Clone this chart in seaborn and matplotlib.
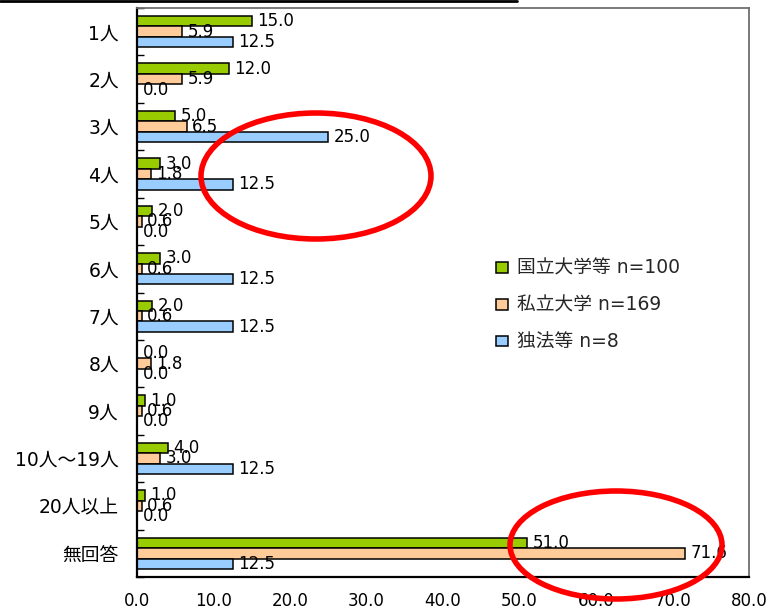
import matplotlib
matplotlib.use("Agg")
import matplotlib.pyplot as plt
from matplotlib.patches import Ellipse
from matplotlib.lines import Line2D
from matplotlib.ticker import FormatStrFormatter, MultipleLocator
import seaborn as sns
import pandas as pd

categories = ["1人", "2人", "3人", "4人", "5人", "6人", "7人", "8人", "9人",
              "10人～19人", "20人以上", "無回答"]
national = [15.0, 12.0, 5.0, 3.0, 2.0, 3.0, 2.0, 0.0, 1.0, 4.0, 1.0, 51.0]
private = [5.9, 5.9, 6.5, 1.8, 0.6, 0.6, 0.6, 1.8, 0.6, 3.0, 0.6, 71.6]
agency = [12.5, 0.0, 25.0, 12.5, 0.0, 12.5, 12.5, 0.0, 0.0, 12.5, 0.0, 12.5]
series_names = ["国立大学等 n=100", "私立大学 n=169", "独法等 n=8"]
series_colors = ["#99CC00", "#FFCC99", "#99CCFF"]

sns.set_theme(style="white")
plt.rcParams["font.family"] = ["DejaVu Sans", "Noto Sans CJK JP"]

rows = []
for name, vals in zip(series_names, [national, private, agency]):
    for cat, v in zip(categories, vals):
        rows.append({"category": cat, "value": v, "series": name})
df = pd.DataFrame(rows)

fig = plt.figure(figsize=(7.67, 6.11), dpi=100)
ax = fig.add_axes([137 / 767, 1 - 577 / 611, (749 - 137) / 767, (577 - 8) / 611])

sns.barplot(data=df, x="value", y="category", hue="series", orient="h",
            order=categories, hue_order=series_names,
            palette=series_colors, width=0.66, gap=0,
            edgecolor="black", linewidth=1.1, saturation=1,
            errorbar=None, ax=ax)

for cont in ax.containers:
    ax.bar_label(cont, fmt="%.1f", padding=4, fontsize=12, color="black")

ax.set_xlim(0, 80)
ax.set_ylim(len(categories) - 0.5, -0.5)
ax.xaxis.set_major_locator(MultipleLocator(10))
ax.xaxis.set_major_formatter(FormatStrFormatter("%.1f"))
ax.set_yticks([i - 0.5 for i in range(len(categories) + 1)], minor=True)
ax.tick_params(axis="x", which="major", direction="in", length=5, width=1,
               colors="black", labelsize=12, pad=11)
ax.tick_params(axis="y", which="major", length=0, labelsize=13.5, pad=13,
               labelcolor="black")
ax.tick_params(axis="y", which="minor", direction="in", length=5, width=1,
               color="black", left=True)
ax.set_xlabel("")
ax.set_ylabel("")

for side in ["left", "bottom"]:
    ax.spines[side].set_color("black")
    ax.spines[side].set_linewidth(1.6)
for side in ["top", "right"]:
    ax.spines[side].set_color("#707070")
    ax.spines[side].set_linewidth(1.3)

handles, labels = ax.get_legend_handles_labels()
ax.legend(handles, labels, loc="upper left", frameon=False,
          bbox_to_anchor=(496 / 767, 1 - 259 / 611), bbox_transform=fig.transFigure,
          fontsize=13.5, handlelength=0.65, handleheight=0.5, handletextpad=0.45,
          labelspacing=0.95, borderpad=0, borderaxespad=0)

# rule along the upper edge
fig.add_artist(Line2D([0, 517 / 767], [1 - 1 / 611, 1 - 1 / 611],
                      transform=fig.transFigure, color="black", linewidth=2))

# red highlight rings
for cx, cy, w, h in [(316, 176, 230, 126), (616, 545, 212, 108)]:
    fig.add_artist(Ellipse((cx / 767, 1 - cy / 611), w / 767, h / 611,
                           transform=fig.transFigure, fill=False,
                           edgecolor="#FF0000", linewidth=4))

fig.savefig("out.png", dpi=100)
